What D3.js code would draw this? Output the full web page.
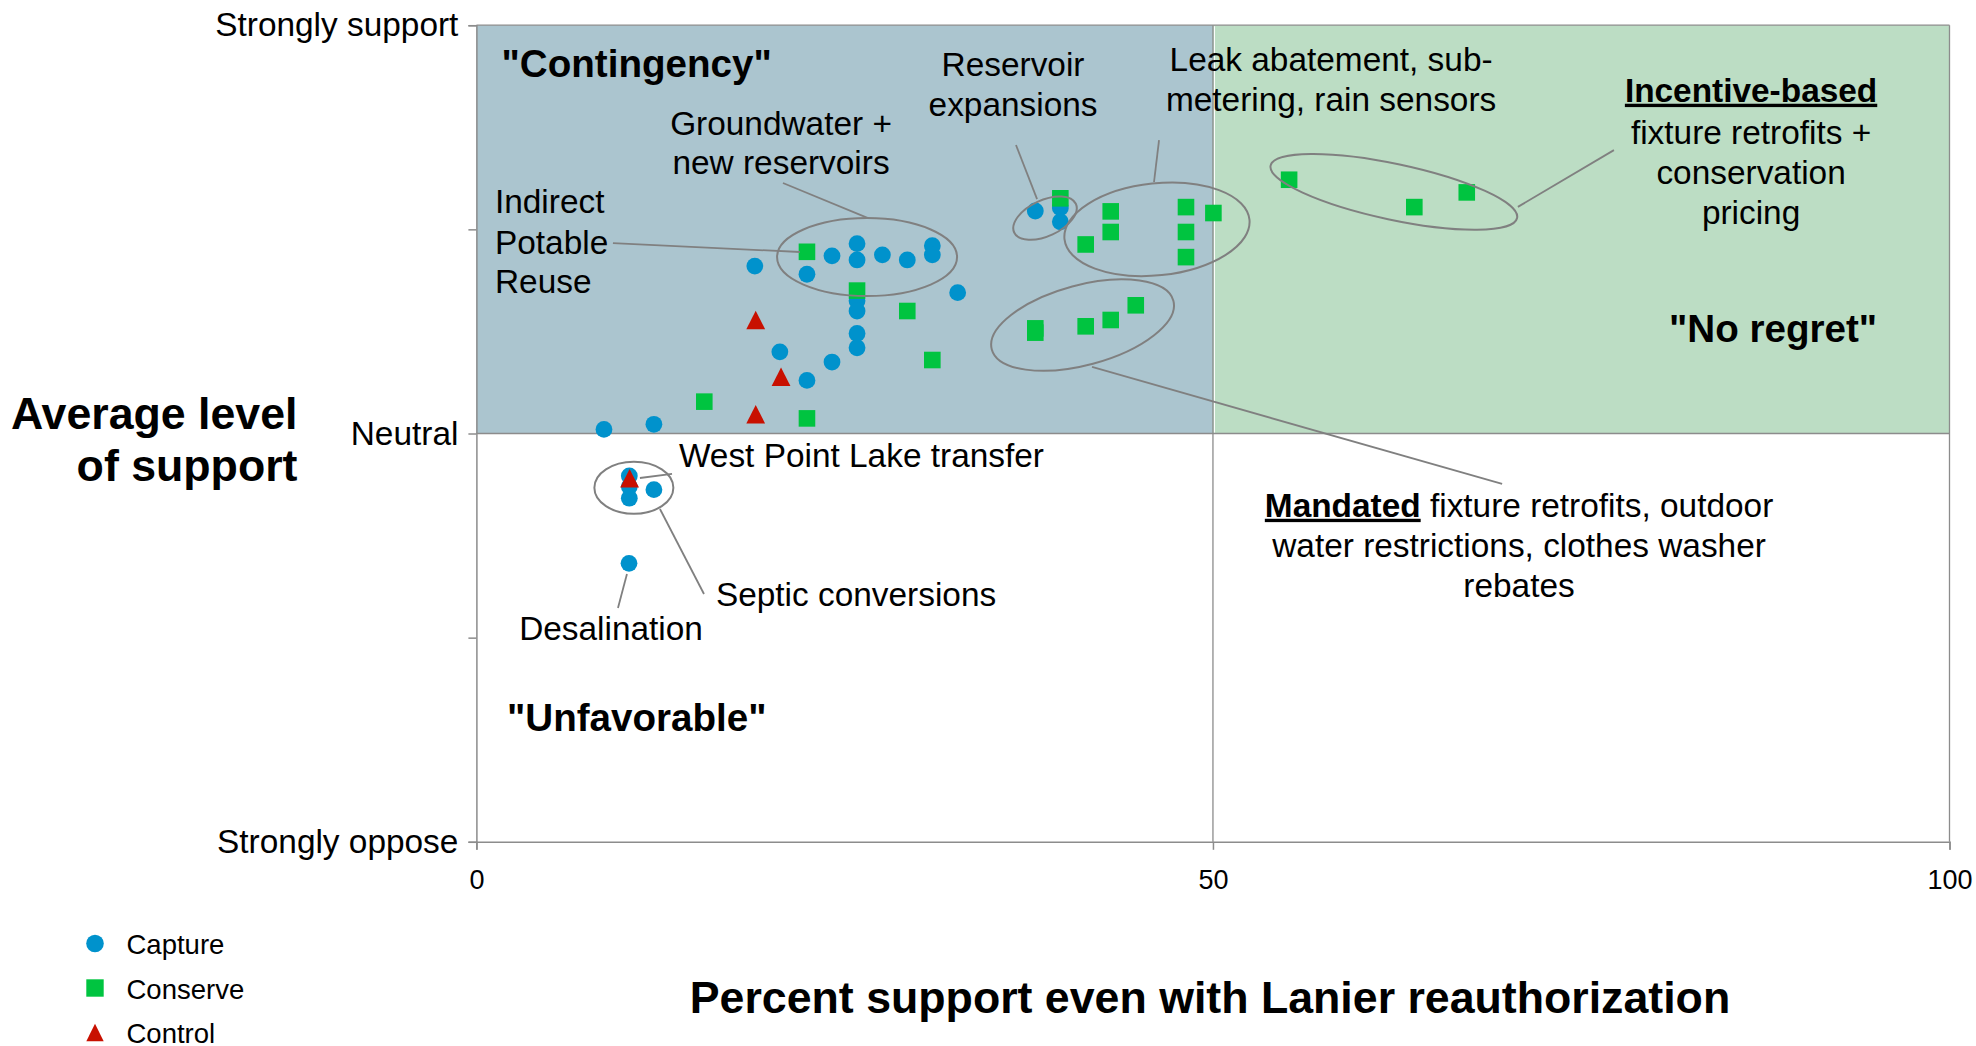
<!DOCTYPE html>
<html>
<head>
<meta charset="utf-8">
<script src="https://cdn.jsdelivr.net/npm/d3@7"></script>
<style>
  body { margin: 0; background: #fff; }
  svg { font-family: "Liberation Sans", Arial, sans-serif; }
</style>
</head>
<body>
<svg id="chart" width="1976" height="1046"></svg>
<script>
// x = percent support even with Lanier reauthorization
// y = average level of support (-2 strongly oppose .. 0 neutral .. 2 strongly support)
const capturePoints = [
  [8.66, 0.02], [12.05, 0.045], [18.9, 0.82], [20.6, 0.40], [22.44, 0.78], [22.44, 0.26],
  [24.14, 0.87], [24.14, 0.35], [25.84, 0.93], [25.84, 0.85], [25.84, 0.65], [25.84, 0.60],
  [25.84, 0.49], [25.84, 0.42], [27.56, 0.875], [29.25, 0.85], [30.95, 0.92], [30.95, 0.875],
  [32.67, 0.69], [37.94, 1.09], [39.64, 1.105], [39.64, 1.037],
  [10.38, -0.208], [10.38, -0.26], [10.38, -0.317], [12.05, -0.275], [10.36, -0.636]
];
const conservePoints = [
  [22.44, 0.89], [25.84, 0.70], [29.25, 0.60], [30.95, 0.36], [15.47, 0.156], [22.44, 0.074],
  [39.64, 1.152], [43.06, 1.088], [43.06, 0.987], [41.36, 0.926], [48.17, 1.109], [48.17, 0.987],
  [48.17, 0.864], [50.03, 1.08], [37.94, 0.515], [37.94, 0.494], [41.36, 0.525], [43.06, 0.556],
  [44.76, 0.628], [55.17, 1.243], [63.67, 1.109], [67.23, 1.181]
];
const controlPoints = [
  [18.96, 0.556], [20.68, 0.278], [18.96, 0.094], [10.4, -0.219]
];
const seriesNames = ["Capture", "Conserve", "Control"];
const xTicks = [0, 50, 100];
const yTicks = [-2, -1, 0, 1, 2];
const yTickLabels = { "-2": "Strongly oppose", "0": "Neutral", "2": "Strongly support" };

const colors = { Capture: "#0092CC", Conserve: "#00C440", Control: "#C81000" };
const gridGray = "#8c8c8c";
const noteGray = "#808080";
const labelSize = 33.4;

var svg = d3.select("#chart");

var x = d3.scaleLinear().domain([0, 100]).range([476.4, 1949.5]);
var y = d3.scaleLinear().domain([-2, 2]).range([841.8, 25.2]);

// quadrant shading
svg.append("rect")
    .attr("x", x(0)).attr("y", y(2))
    .attr("width", x(50) - x(0)).attr("height", y(0) - y(2))
    .attr("fill", "#ABC5CF");
svg.append("rect")
    .attr("x", x(50)).attr("y", y(2))
    .attr("width", x(100) - x(50)).attr("height", y(0) - y(2))
    .attr("fill", "#BCDDC4");

// grid lines
svg.append("line")
    .attr("x1", x(0)).attr("x2", x(100)).attr("y1", y(2)).attr("y2", y(2))
    .attr("stroke", gridGray).attr("stroke-width", 1.3);
svg.append("line")
    .attr("x1", x(0)).attr("x2", x(100)).attr("y1", y(0)).attr("y2", y(0))
    .attr("stroke", gridGray).attr("stroke-width", 1.3);
[50, 100].forEach(function(v) {
    svg.append("line")
        .attr("x1", x(v)).attr("x2", x(v)).attr("y1", y(2)).attr("y2", y(-2))
        .attr("stroke", gridGray).attr("stroke-width", 1.3);
});
svg.append("line")
    .attr("x1", x(50) + 1.5).attr("x2", x(50) + 1.5).attr("y1", y(2) + 1).attr("y2", y(0) - 1)
    .attr("stroke", "#fff").attr("stroke-width", 1);

// axes
var yAxis = svg.append("g")
    .attr("transform", "translate(" + x(0) + ",0)")
    .call(d3.axisLeft(y).tickValues(yTicks).tickSize(8).tickPadding(10)
        .tickFormat(function(d) { return yTickLabels[d] || ""; }));
yAxis.selectAll("path, line").attr("stroke", gridGray).attr("stroke-width", 1.5);
yAxis.selectAll("text").attr("font-size", labelSize + "px").attr("fill", "#000")
    .attr("font-family", "Liberation Sans, Arial, sans-serif");

var xAxis = svg.append("g")
    .attr("transform", "translate(0," + y(-2) + ")")
    .call(d3.axisBottom(x).tickValues(xTicks).tickSize(8).tickPadding(0).tickFormat(d3.format("d")));
xAxis.selectAll("path, line").attr("stroke", gridGray).attr("stroke-width", 1.5);
xAxis.selectAll("text").attr("font-size", "27px").attr("fill", "#000")
    .attr("font-family", "Liberation Sans, Arial, sans-serif")
    .attr("y", 47).attr("dy", 0);

// markers
function drawSeries(points, name) {
    var g = svg.append("g");
    var sel = g.selectAll("path").data(points).enter().append("path")
        .attr("fill", colors[name])
        .attr("transform", function(d) { return "translate(" + x(d[0]) + "," + y(d[1]) + ")"; });
    if (name === "Capture") sel.attr("d", d3.symbol().type(d3.symbolCircle).size(Math.PI * 8.4 * 8.4));
    if (name === "Conserve") sel.attr("d", "M-8.3,-8.3H8.3V8.3H-8.3Z");
    if (name === "Control") sel.attr("d", "M0,-9.2L9.4,9.2L-9.4,9.2Z");
}
drawSeries(capturePoints, "Capture");
drawSeries(conservePoints, "Conserve");
drawSeries(controlPoints, "Control");

// callout ellipses (centres in data units, radii in px)
const ellipses = [
    { cx: 26.52, cy: 0.864, rx: 90, ry: 39, rot: 0 },
    { cx: 38.6, cy: 1.055, rx: 34, ry: 18, rot: -25 },
    { cx: 46.2, cy: 1.0, rx: 93, ry: 46, rot: -6 },
    { cx: 41.15, cy: 0.531, rx: 94, ry: 40, rot: -15 },
    { cx: 62.28, cy: 1.184, rx: 126, ry: 28, rot: 12 },
    { cx: 10.69, cy: -0.266, rx: 39.5, ry: 26, rot: 0 }
];
svg.append("g").selectAll("ellipse").data(ellipses).enter().append("ellipse")
    .attr("cx", 0).attr("cy", 0)
    .attr("rx", function(d) { return d.rx; })
    .attr("ry", function(d) { return d.ry; })
    .attr("transform", function(d) { return "translate(" + x(d.cx) + "," + y(d.cy) + ") rotate(" + d.rot + ")"; })
    .attr("fill", "none").attr("stroke", noteGray).attr("stroke-width", 2);

// leader lines [x1, y1, x2, y2] in data units
const leaders = [
    [9.27, 0.933, 21.96, 0.889],
    [20.81, 1.227, 26.59, 1.055],
    [36.63, 1.413, 38.06, 1.148],
    [46.34, 1.437, 46.0, 1.232],
    [77.22, 1.388, 70.7, 1.11],
    [41.79, 0.326, 69.63, -0.247],
    [11.1, -0.218, 13.28, -0.198],
    [12.46, -0.37, 15.45, -0.786],
    [10.22, -0.688, 9.61, -0.855]
];
svg.append("g").selectAll("line").data(leaders).enter().append("line")
    .attr("x1", function(d) { return x(d[0]); })
    .attr("y1", function(d) { return y(d[1]); })
    .attr("x2", function(d) { return x(d[2]); })
    .attr("y2", function(d) { return y(d[3]); })
    .attr("stroke", noteGray).attr("stroke-width", 1.8);

// annotation text: each line is a list of [text, bold/underline flag]
function note(px, lines, anchor, size, bold) {
    lines.forEach(function(ln) {
        var t = svg.append("text")
            .attr("x", x(px)).attr("y", y(ln.y))
            .attr("text-anchor", anchor)
            .attr("font-size", size + "px")
            .attr("font-weight", bold ? "bold" : "normal")
            .attr("fill", "#000");
        ln.parts.forEach(function(p) {
            var s = t.append("tspan").text(p[0]);
            if (p[1]) s.attr("font-weight", "bold").attr("text-decoration", "underline");
        });
    });
}
function plain(s, yv) { return { y: yv, parts: [[s, false]] }; }

note(1.71, [plain("\"Contingency\"", 1.746)], "start", 38.6, true);
note(80.96, [plain("\"No regret\"", 0.448)], "start", 38.6, true);
note(2.08, [plain("\"Unfavorable\"", -1.455)], "start", 38.6, true);

note(36.43, [plain("Reservoir", 1.753), plain("expansions", 1.555)], "middle", labelSize);
note(58.02, [plain("Leak abatement, sub-", 1.776), plain("metering, rain sensors", 1.579)], "middle", labelSize);
note(20.68, [plain("Groundwater +", 1.462), plain("new reservoirs", 1.269)], "middle", labelSize);
note(1.26, [plain("Indirect", 1.079), plain("Potable", 0.881), plain("Reuse", 0.69)], "start", labelSize);
note(86.53, [
    { y: 1.625, parts: [["Incentive-based", true]] },
    plain("fixture retrofits +", 1.418),
    plain("conservation", 1.221),
    plain("pricing", 1.024)
], "middle", labelSize);
note(70.78, [
    { y: -0.408, parts: [["Mandated", true], [" fixture retrofits, outdoor", false]] },
    plain("water restrictions, clothes washer", -0.606),
    plain("rebates", -0.803)
], "middle", labelSize);
note(13.75, [plain("West Point Lake transfer", -0.164)], "start", labelSize);
note(16.26, [plain("Septic conversions", -0.845)], "start", labelSize);
note(9.14, [plain("Desalination", -1.011)], "middle", labelSize);

// axis titles
svg.append("text").attr("x", 297.5).attr("y", 429).attr("text-anchor", "end")
    .attr("font-size", "44.7px").attr("font-weight", "bold").text("Average level");
svg.append("text").attr("x", 297.5).attr("y", 481).attr("text-anchor", "end")
    .attr("font-size", "44.7px").attr("font-weight", "bold").text("of support");
svg.append("text").attr("x", 1210).attr("y", 1013).attr("text-anchor", "middle")
    .attr("font-size", "44.7px").attr("font-weight", "bold")
    .text("Percent support even with Lanier reauthorization");

// legend
var legend = svg.append("g").attr("transform", "translate(95,943.5)");
var items = legend.selectAll("g").data(seriesNames).enter().append("g")
    .attr("transform", function(d, i) { return "translate(0," + (i * 44.5) + ")"; });
items.append("path")
    .attr("fill", function(d) { return colors[d]; })
    .attr("d", function(d) {
        if (d === "Capture") return d3.symbol().type(d3.symbolCircle).size(Math.PI * 8.8 * 8.8)();
        if (d === "Conserve") return "M-8.7,-8.7H8.7V8.7H-8.7Z";
        return "M0,-8.8L8.7,8.8L-8.7,8.8Z";
    });
items.append("text")
    .attr("x", 31.5).attr("y", 10.5)
    .attr("font-size", "27.5px").attr("fill", "#000")
    .text(function(d) { return d; });
</script>
</body>
</html>
